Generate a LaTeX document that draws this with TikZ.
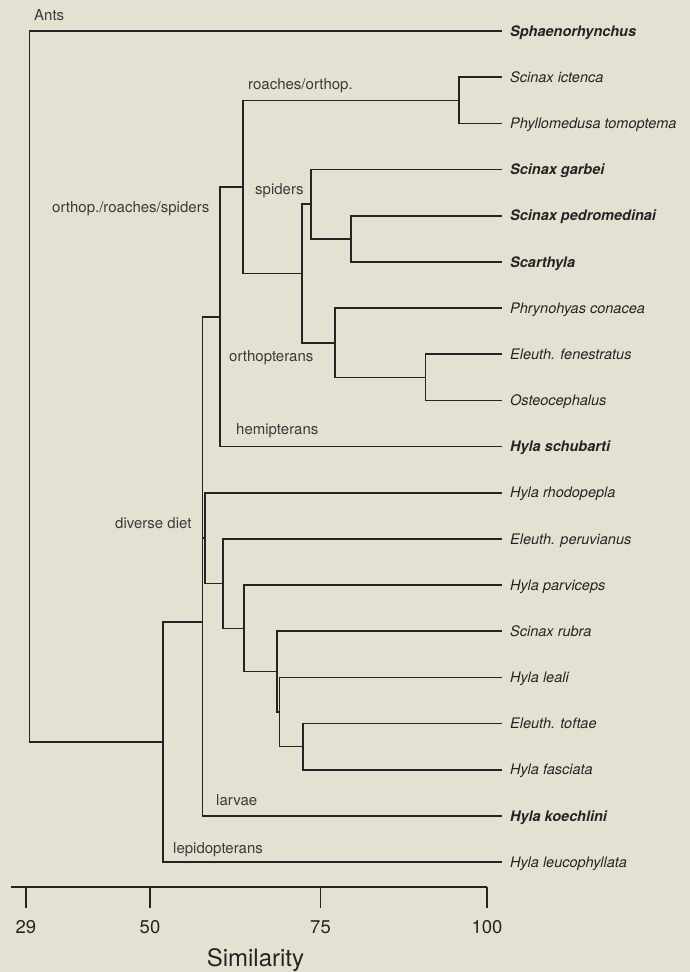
\documentclass[tikz,border=0pt]{standalone}
\usepackage{fontspec}
\setmainfont{TeX Gyre Heros}
\usepackage{xcolor}
\usepackage{tikz}
\usetikzlibrary{positioning}
\definecolor{paper}{HTML}{E5E1D2}
\definecolor{ink}{HTML}{242424}
\definecolor{lbl}{HTML}{3A3A3A}

\begin{document}
\begin{tikzpicture}[x=1pt,y=-1pt,
  br/.style={draw=ink,line width=1.6pt,line cap=rect},
  leaf/.style={anchor=west,inner xsep=9pt,inner ysep=0pt,text height=10.4pt,text depth=0pt,
               font=\fontsize{14.5}{17}\selectfont\itshape,text=ink},
  sel/.style={leaf,font=\fontsize{14.5}{17}\selectfont\bfseries\itshape},
  tag/.style={anchor=base west,inner sep=0pt,font=\fontsize{15}{18}\selectfont,text=lbl},
  num/.style={inner sep=0pt,text height=13pt,text depth=0pt,font=\fontsize{18.5}{22}\selectfont,text=ink}]
  \fill[paper] (0,0) rectangle (690,972);
  \useasboundingbox (0,0) rectangle (690,972);
  % taxa
  \node[sel]  (sph) at (501,31)    {Sphaenorhynchus};
  \node[leaf] (sic) at (501,77.2)  {Scinax ictenca};
  \node[leaf] (pto) at (501,123.3) {Phyllomedusa tomoptema};
  \node[sel]  (sga) at (501,169.5) {Scinax garbei};
  \node[sel]  (spe) at (501,215.7) {Scinax pedromedinai};
  \node[sel]  (sca) at (501,261.8) {Scarthyla};
  \node[leaf] (pco) at (501,308)   {Phrynohyas conacea};
  \node[leaf] (efe) at (501,354.2) {Eleuth. fenestratus};
  \node[leaf] (ost) at (501,400.4) {Osteocephalus};
  \node[sel]  (hsc) at (501,446.5) {Hyla schubarti};
  \node[leaf] (hrh) at (501,492.7) {Hyla rhodopepla};
  \node[leaf] (epe) at (501,538.9) {Eleuth. peruvianus};
  \node[leaf] (hpa) at (501,585)   {Hyla parviceps};
  \node[leaf] (sru) at (501,631.2) {Scinax rubra};
  \node[leaf] (hle) at (501,677.4) {Hyla leali};
  \node[leaf] (eto) at (501,723.5) {Eleuth. toftae};
  \node[leaf] (hfa) at (501,769.7) {Hyla fasciata};
  \node[sel]  (hko) at (501,815.9) {Hyla koechlini};
  \node[leaf] (hlu) at (501,862)   {Hyla leucophyllata};
  % joins
  \coordinate (ja) at (459,100.3);
  \coordinate (jb) at (351,238.8);
  \coordinate (jc) at (311,204.1);
  \coordinate (jd) at (425.5,377.3);
  \coordinate (je) at (335,342.7);
  \coordinate (jf) at (302,273.4);
  \coordinate (jg) at (243,186.9);
  \coordinate (jh) at (220,316.7);
  \coordinate (ji) at (303,746.6);
  \coordinate (jj) at (279.5,712);
  \coordinate (jk) at (277,671.6);
  \coordinate (jl) at (244,628.3);
  \coordinate (jm) at (223,583.6);
  \coordinate (jn) at (205,538.2);
  \coordinate (jo) at (202.5,427.4);
  \coordinate (jp) at (202.5,621.7);
  \coordinate (jq) at (163,741.8);
  \coordinate (jr) at (29.5,386.4);
  \draw[br] (ja) |- (sic.west) (ja) |- (pto.west);
  \draw[br] (jb) |- (spe.west) (jb) |- (sca.west);
  \draw[br] (jc) |- (sga.west) (jc) |- (jb);
  \draw[br] (jd) |- (efe.west) (jd) |- (ost.west);
  \draw[br] (je) |- (pco.west) (je) |- (jd);
  \draw[br] (jf) |- (jc) (jf) |- (je);
  \draw[br] (jg) |- (ja) (jg) |- (jf);
  \draw[br] (jh) |- (jg) (jh) |- (hsc.west);
  \draw[br] (ji) |- (eto.west) (ji) |- (hfa.west);
  \draw[br] (jj) |- (hle.west) (jj) |- (ji);
  \draw[br] (jk) |- (sru.west) (jk) |- (jj);
  \draw[br] (jl) |- (hpa.west) (jl) |- (jk);
  \draw[br] (jm) |- (epe.west) (jm) |- (jl);
  \draw[br] (jn) |- (hrh.west) (jn) |- (jm);
  \draw[br] (jo) |- (jh) (jo) |- (jn);
  \draw[br] (jp) |- (jo) (jp) |- (hko.west);
  \draw[br] (jq) |- (jp) (jq) |- (hlu.west);
  \draw[br] (jr) |- (sph.west) (jr) |- (jq);
  % diets
  \node[tag] (ants) at (34,20)   {Ants};
  \node[tag] (rch)  at (248,89)  {roaches/orthop.};
  \node[tag] (ors)  at (52,212)  {orthop./roaches/spiders};
  \node[tag] (spd)  at (255,194) {spiders};
  \node[tag] (orp)  at (229,361) {orthopterans};
  \node[tag] (hem)  at (236,434) {hemipterans};
  \node[tag] (div)  at (115,528) {diverse diet};
  \node[tag] (lar)  at (216,805) {larvae};
  \node[tag] (lep)  at (173,853) {lepidopterans};
  % scale
  \coordinate (ax0) at (11,887);
  \coordinate (ax1) at (487,887);
  \coordinate (t29) at (26,908);
  \coordinate (t50) at (150,908);
  \coordinate (t75) at (320.5,908);
  \coordinate (t100) at (487,908);
  \draw[br,line cap=butt] (ax0) -- (ax1);
  \draw[br,line cap=butt] (t29) -- (t29 |- ax0) (t50) -- (t50 |- ax0)
    (t75) -- (t75 |- ax0) (t100) -- (t100 |- ax0);
  \node[num,below=12.5pt of t29]  (n29)  {29};
  \node[num,below=12.5pt of t50]  (n50)  {50};
  \node[num,below=12.5pt of t75]  (n75)  {75};
  \node[num,below=12.5pt of t100] (n100) {100};
  \node[anchor=base,inner sep=0pt,font=\fontsize{24}{28}\selectfont,text=ink] (sim) at (255.5,966) {Similarity};
\end{tikzpicture}
\end{document}
